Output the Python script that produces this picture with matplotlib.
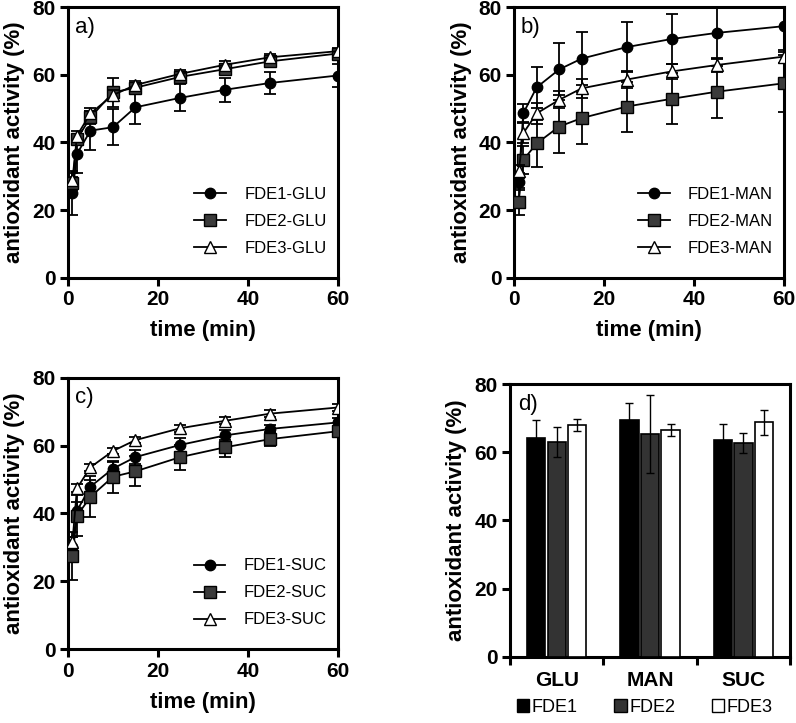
import matplotlib
matplotlib.use("Agg")
import matplotlib.pyplot as plt
from matplotlib.patches import Patch
import numpy as np

plt.rcParams['font.family'] = ['Liberation Sans', 'DejaVu Sans']

# sampling times (min)
times = [1, 2, 5, 10, 15, 25, 35, 45, 60]

# a) glucose
glu1 = [25, 36.6, 43.5, 44.5, 50.4, 53.2, 55.6, 57.6, 59.8]
glu1_err = [6.5, 5.7, 5.8, 5.3, 5.0, 4.0, 3.6, 3.3, 3.5]
glu2 = [27.9, 41.0, 47.4, 54.8, 56.2, 59.4, 61.7, 64.0, 66.3]
glu2_err = [2.0, 1.5, 2.0, 4.4, 1.5, 1.5, 1.5, 1.2, 1.2]
glu3 = [29.0, 42.0, 48.6, 54.0, 57.0, 60.3, 63.0, 65.2, 67.0]
glu3_err = [2.0, 1.5, 1.5, 1.5, 1.2, 1.2, 1.0, 1.0, 1.0]

# b) mannitol
man1 = [28.4, 48.6, 56.3, 61.6, 64.8, 68.2, 70.6, 72.4, 74.4]
man1_err = [2.5, 2.7, 6.0, 7.7, 7.9, 7.4, 7.4, 7.7, 7.5]
man2 = [22.5, 34.8, 39.7, 44.7, 47.2, 50.6, 52.9, 55.0, 57.5]
man2_err = [4.0, 4.0, 6.9, 7.9, 7.6, 7.4, 7.5, 7.7, 8.4]
man3 = [31.4, 42.7, 48.6, 52.6, 56.0, 58.6, 61.0, 62.9, 65.4]
man3_err = [2.0, 3.0, 3.0, 2.5, 2.8, 2.5, 2.2, 2.2, 2.0]

# c) sucrose
suc1 = [30.0, 40.8, 47.9, 53.2, 56.6, 60.2, 63.0, 64.9, 66.8]
suc1_err = [3.0, 2.5, 2.0, 2.0, 2.0, 2.0, 1.5, 1.2, 1.2]
suc2 = [27.5, 39.3, 44.9, 50.8, 52.4, 56.6, 59.5, 61.9, 64.2]
suc2_err = [7.0, 6.0, 6.0, 4.7, 4.4, 3.7, 3.0, 2.0, 1.5]
suc3 = [31.7, 47.4, 53.6, 58.4, 61.6, 65.1, 67.3, 69.4, 71.2]
suc3_err = [1.5, 1.2, 1.0, 1.0, 1.0, 1.0, 1.0, 1.0, 1.0]

# d) final activity per sugar
sugars = ['GLU', 'MAN', 'SUC']
fde1_bar = [64.3, 69.5, 63.5]
fde1_bar_err = [5.3, 5.1, 4.9]
fde2_bar = [63.1, 65.4, 62.8]
fde2_bar_err = [4.4, 11.4, 3.0]
fde3_bar = [68.0, 66.6, 68.8]
fde3_bar_err = [1.8, 1.8, 3.6]

fig = plt.figure(figsize=(7.96, 7.23), dpi=100)
ax_a = fig.add_axes([0.0854, 0.616, 0.339, 0.374])
ax_b = fig.add_axes([0.646, 0.616, 0.339, 0.374])
ax_c = fig.add_axes([0.0854, 0.102, 0.339, 0.3757])
ax_d = fig.add_axes([0.6407, 0.0917, 0.3518, 0.3768])


def style_axes(ax):
    for s in ax.spines.values():
        s.set_linewidth(2.2)
    ax.tick_params(width=2.2, length=6, direction='out', labelsize=15, pad=3)
    for lab in ax.get_xticklabels() + ax.get_yticklabels():
        lab.set_fontweight('bold')
    ax.set_ylim(0, 80)
    ax.set_yticks([0, 20, 40, 60, 80])
    ax.set_ylabel('antioxidant activity (%)', fontsize=16, fontweight='bold', labelpad=5)


def line_panel(ax, series, tag, suffix):
    styles = [dict(marker='o', mfc='black', mec='black', ms=7.5),
              dict(marker='s', mfc='#3a3a3a', mec='black', ms=8.5),
              dict(marker='^', mfc='white', mec='black', ms=8.5)]
    handles = []
    labels = []
    for i, (y, err) in enumerate(series):
        c = ax.errorbar(times, y, yerr=err, color='black', lw=1.3, elinewidth=1.3,
                        capsize=4, capthick=1.3, zorder=3 + i, **styles[i])
        handles.append(c.lines[0])
        labels.append(f'FDE{i + 1}-{suffix}')
    ax.set_xlim(0, 60)
    ax.set_xticks([0, 20, 40, 60])
    ax.set_xlabel('time (min)', fontsize=16, fontweight='bold', labelpad=8)
    style_axes(ax)
    ax.text(0.025, 0.965, tag, transform=ax.transAxes, fontsize=16, va='top')
    ax.legend(handles, labels, loc='lower right', frameon=False, fontsize=12,
              handlelength=1.9, handletextpad=1.1, labelspacing=0.72,
              bbox_to_anchor=(1.015, 0.025))


line_panel(ax_a, [(glu1, glu1_err), (glu2, glu2_err), (glu3, glu3_err)], 'a)', 'GLU')
line_panel(ax_b, [(man1, man1_err), (man2, man2_err), (man3, man3_err)], 'b)', 'MAN')
line_panel(ax_c, [(suc1, suc1_err), (suc2, suc2_err), (suc3, suc3_err)], 'c)', 'SUC')

# d) bar chart
xpos = np.arange(len(sugars))
w = 0.196
off = 0.22
ek = dict(elinewidth=1.0, capsize=3, capthick=1.0, ecolor='black')
ax_d.bar(xpos - off, fde1_bar, w, yerr=fde1_bar_err, color='black',
         edgecolor='black', lw=1.2, error_kw=ek, zorder=3)
ax_d.bar(xpos, fde2_bar, w, yerr=fde2_bar_err, color='#333333',
         edgecolor='black', lw=1.2, error_kw=ek, zorder=3)
ax_d.bar(xpos + off, fde3_bar, w, yerr=fde3_bar_err, color='white',
         edgecolor='black', lw=1.2, error_kw=ek, zorder=3)
ax_d.set_xlim(-0.5, len(sugars) - 0.5)
ax_d.set_xticks(np.arange(len(sugars) + 1) - 0.5)
ax_d.set_xticklabels([])
ax_d.set_xticks(xpos, minor=True)
ax_d.set_xticklabels(sugars, minor=True)
ax_d.tick_params(axis='x', which='minor', length=0, labelsize=15, pad=10)
style_axes(ax_d)
for lab in ax_d.get_xticklabels(minor=True):
    lab.set_fontweight('bold')
ax_d.text(0.03, 0.965, 'd)', transform=ax_d.transAxes, fontsize=16, va='top')

handles = [Patch(facecolor='black', edgecolor='black', label='FDE1'),
           Patch(facecolor='#333333', edgecolor='black', label='FDE2'),
           Patch(facecolor='white', edgecolor='black', label='FDE3')]
fig.legend(handles=handles, loc='center', bbox_to_anchor=(0.81, 0.022), ncol=3,
           frameon=False, fontsize=13, handlelength=0.7, handleheight=0.7,
           handletextpad=0.15, columnspacing=2.0)

fig.savefig('out.png', dpi=100)
